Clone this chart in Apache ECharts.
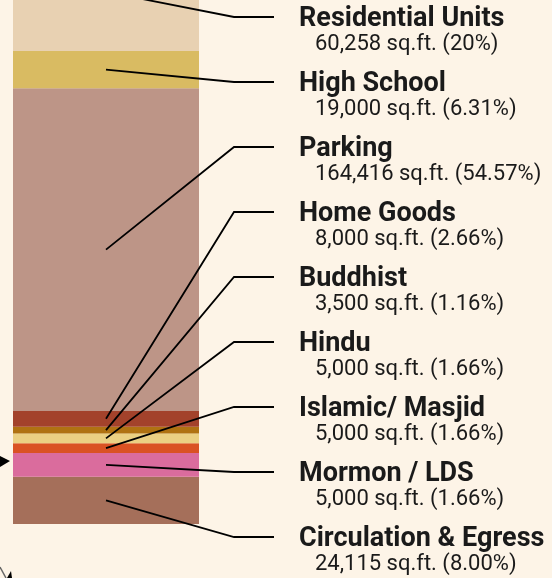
<!DOCTYPE html>
<html lang="en">
<head>
    <meta charset="UTF-8">
    <title>Space breakdown</title>
    <script src="https://cdn.jsdelivr.net/npm/echarts@6/dist/echarts.min.js"></script>
    <style>
        html, body { margin: 0; padding: 0; background: #FDF4E7; }
        #main { width: 552px; height: 578px; }
    </style>
</head>
<body>
<div id="main"></div>
<script>
    // top to bottom, same order as the labels
    var names = ['Residential Units', 'High School', 'Parking', 'Home Goods', 'Buddhist', 'Hindu', 'Islamic/ Masjid', 'Mormon / LDS', 'Circulation & Egress'];
    var printedSqft = ['60,258', '19,000', '164,416', '8,000', '3,500', '5,000', '5,000', '5,000', '24,115'];
    var printedPct = ['20%', '6.31%', '54.57%', '2.66%', '1.16%', '1.66%', '1.66%', '1.66%', '8.00%'];
    // heights of the bands as drawn (the pink band is drawn taller than its label says)
    var barAreas = [60258, 19000, 164416, 8000, 3500, 5000, 5000, 12000, 24115];
    var colors = ['#E8D1B2', '#D9BB62', '#BD9587', '#A3422B', '#B07212', '#EBD083', '#DA5223', '#DA6C9D', '#A56F5A'];
    // the picture is a crop: its top edge cuts through the residential band
    var visibleTop = 267000;

    // cumulative bounds from the bottom of the bar
    var lows = [], highs = [];
    var acc = 0;
    for (let i = barAreas.length - 1; i >= 0; i--) {
        lows[i] = acc;
        acc += barAreas[i];
        highs[i] = acc;
    }

    var series = [];
    for (let i = barAreas.length - 1; i >= 0; i--) {
        series.push({
            name: names[i],
            type: 'bar',
            stack: 'space',
            barWidth: '100%',
            clip: true,
            itemStyle: { color: colors[i] },
            silent: true,
            data: [barAreas[i]]
        });
    }

    // leader lines and labels
    series.push({
        type: 'custom',
        silent: true,
        clip: false,
        z: 10,
        data: names.map(function (n, i) { return [0, (lows[i] + highs[i]) / 2, i]; }),
        renderItem: function (params, api) {
            var i = api.value(2);
            var p = api.coord([0, api.value(1)]);
            var ly = 17 + 65 * i;
            return {
                type: 'group',
                children: [
                    {
                        type: 'polyline',
                        shape: { points: [[p[0], p[1]], [234, ly], [274, ly]] },
                        style: { stroke: '#000', lineWidth: 1.8, fill: null }
                    },
                    {
                        type: 'text',
                        style: {
                            x: 299, y: ly + 2.5,
                            text: names[i],
                            fill: '#1a1a1a',
                            font: 'bold 27px Roboto',
                            verticalAlign: 'middle'
                        }
                    },
                    {
                        type: 'text',
                        style: {
                            x: 315, y: ly + 27,
                            text: printedSqft[i] + ' sq.ft. (' + printedPct[i] + ')',
                            fill: '#1a1a1a',
                            font: '22px Roboto',
                            verticalAlign: 'middle'
                        }
                    }
                ]
            };
        }
    });

    var chart = echarts.init(document.getElementById('main'));
    chart.setOption({
        backgroundColor: '#FDF4E7',
        animation: false,
        grid: { left: 13, width: 186, top: 0, bottom: 54 },
        xAxis: { type: 'category', data: ['space'], show: false },
        yAxis: { type: 'value', min: 0, max: visibleTop, show: false },
        series: series,
        graphic: [
            // bits of neighbouring drawing at the edges of the crop
            { type: 'polygon', shape: { points: [[0, 456], [10, 461], [0, 467]] }, style: { fill: '#000' } },
            { type: 'line', shape: { x1: 0, y1: 567, x2: 6, y2: 578 }, style: { stroke: '#666', lineWidth: 1.5 } },
            { type: 'polygon', shape: { points: [[7, 578], [11, 571], [12, 578]] }, style: { fill: '#000' } }
        ]
    });
</script>
</body>
</html>
